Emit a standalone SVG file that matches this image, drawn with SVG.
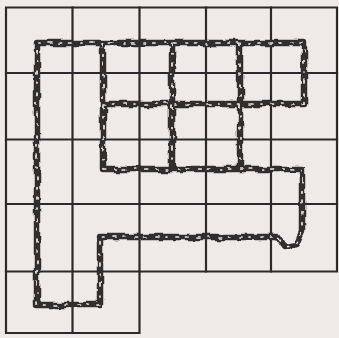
<svg xmlns="http://www.w3.org/2000/svg" width="339" height="338" viewBox="0 0 339 338">
  <defs>
    <style>
      .bg { fill: #efeae7; }
      .grid { fill: none; stroke: #2d2829; stroke-width: 2.2; stroke-linecap: square; }
      .rope { fill: none; stroke: #322d2f; stroke-width: 6.5; stroke-linejoin: round; stroke-linecap: round; }
      .eye { fill: none; stroke: #efeae7; stroke-width: 1.7; stroke-linecap: round; stroke-dasharray: 2.5 7 1.5 9 3 8 1 10; }
    </style>
    <filter id="rough" x="0" y="0" width="339" height="338" filterUnits="userSpaceOnUse">
      <feTurbulence type="fractalNoise" baseFrequency="0.07" numOctaves="2" seed="7" result="noise"/>
      <feDisplacementMap in="SourceGraphic" in2="noise" scale="6" xChannelSelector="R" yChannelSelector="G"/>
    </filter>
  </defs>
  <rect class="bg" x="0" y="0" width="339" height="338"/>
  <g id="grid">
    <path class="grid" d="M6 7.5H337V271.5H139.5V333H6Z"/>
    <path class="grid" d="M72.5 7.5V333M139.5 7.5V271.5M206 7.5V271.5M271 7.5V271.5M6 73H337M6 139.5H337M6 204H337M6 271.5H139.5"/>
  </g>
  <g id="rope" filter="url(#rough)">
    <path class="rope" d="M304 104V43H37V305H100V237H278L285 247L296 245L302 232V169H103V43M172 43V169M240 43V169M103 104H304"/>
    <path class="eye" d="M304 104V43H37V305H100V237H278L285 247L296 245L302 232V169H103V43M172 43V169M240 43V169M103 104H304"/>
  </g>
</svg>
